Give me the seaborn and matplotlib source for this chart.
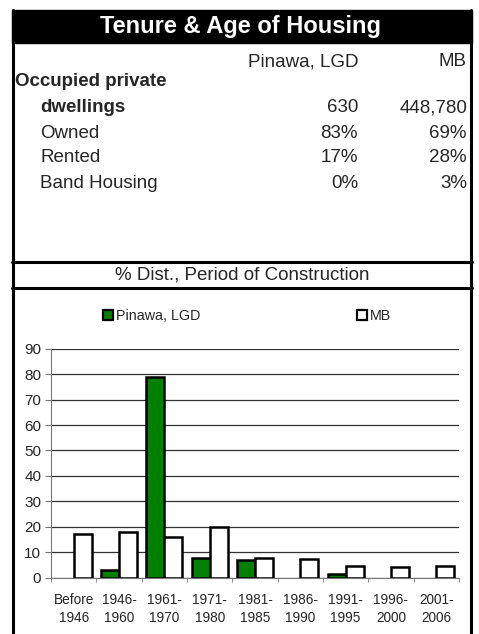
import pandas as pd
import seaborn as sns
import matplotlib.pyplot as plt
from matplotlib.patches import Rectangle
from matplotlib.lines import Line2D

# Chart data
periods = ['Before\n1946', '1946-\n1960', '1961-\n1970', '1971-\n1980', '1981-\n1985',
           '1986-\n1990', '1991-\n1995', '1996-\n2000', '2001-\n2006']
pinawa = [0, 3, 79, 7.6, 7, 0, 1.5, 0, 0]
mb = [17, 18, 16, 20, 7.6, 7.3, 4.5, 4.2, 4.7]
series_names = ['Pinawa, LGD', 'MB']

# Table data
row_labels = ['Occupied private', 'dwellings', 'Owned', 'Rented', 'Band Housing']
pinawa_col = ['', '630', '83%', '17%', '0%']
mb_col = ['', '448,780', '69%', '28%', '3%']

df = pd.DataFrame({
    'period': periods * 2,
    'value': pinawa + mb,
    'area': [series_names[0]] * len(periods) + [series_names[1]] * len(periods),
})

sns.set_style('white')
plt.rcParams['font.family'] = ['Liberation Sans', 'DejaVu Sans']

W, H = 479, 634
fig = plt.figure(figsize=(W / 100, H / 100), dpi=100)


def fx(x):
    return x / W


def fy(y):
    return 1 - y / H


def hline(y, x0=12, x1=472, lw=2.2):
    fig.add_artist(Line2D([fx(x0), fx(x1)], [fy(y), fy(y)], transform=fig.transFigure,
                          color='black', lw=lw))


def vline(x, y0, y1, lw=2.2):
    fig.add_artist(Line2D([fx(x), fx(x)], [fy(y0), fy(y1)], transform=fig.transFigure,
                          color='black', lw=lw))


# title bar
fig.add_artist(Rectangle((fx(12), fy(43)), fx(472) - fx(12), fy(10) - fy(43),
                         transform=fig.transFigure, facecolor='black', edgecolor='black'))
fig.text(fx(241), fy(27), 'Tenure & Age of Housing', color='white', fontsize=17,
         fontweight='bold', ha='center', va='center')

# frame lines
vline(13, 10, 640)
vline(471, 10, 640)
hline(262)
hline(288)

# table
fs = 13.5
fig.text(fx(358), fy(62), series_names[0], fontsize=fs, ha='right', va='center')
fig.text(fx(467), fy(62), series_names[1], fontsize=fs, ha='right', va='center')
row_y = [82, 108, 133, 158, 183]
for i, (lab, p, m) in enumerate(zip(row_labels, pinawa_col, mb_col)):
    bold = i < 2
    x = 15 if i == 0 else 40
    fig.text(fx(x), fy(row_y[i]), lab, fontsize=fs, ha='left', va='center',
             fontweight='bold' if bold else 'normal')
    fig.text(fx(358), fy(row_y[i]), p, fontsize=fs, ha='right', va='center')
    fig.text(fx(467), fy(row_y[i]), m, fontsize=fs, ha='right', va='center')

fig.text(fx(242), fy(275), '% Dist., Period of Construction', fontsize=13.5,
         ha='center', va='center')

# bar chart
ax = fig.add_axes([fx(51), fy(577.7), fx(459) - fx(51), (577.7 - 348.7) / H])
sns.barplot(data=df, x='period', y='value', hue='area',
            palette={series_names[0]: '#008000', series_names[1]: 'white'},
            saturation=1, edgecolor='black', linewidth=1.8, width=0.8, ax=ax, zorder=3)
# hide outline of empty bars
for cont in ax.containers:
    for bar in cont:
        if bar.get_height() == 0:
            bar.set_linewidth(0)
ax.set_ylim(0, 90)
ax.set_xlim(-0.5, len(periods) - 0.5)
ax.set_yticks(range(0, 91, 10))
ax.yaxis.grid(True, color='#333333', lw=0.9, zorder=0)
ax.set_axisbelow(True)
ax.set_xlabel('')
ax.set_ylabel('')
for s in ['top', 'right']:
    ax.spines[s].set_visible(False)
ax.spines['left'].set_color('#777777')
ax.spines['bottom'].set_color('#777777')
ax.tick_params(axis='y', labelsize=11, length=4, color='#777777', pad=3, left=True)
ax.tick_params(axis='x', labelsize=9.8, length=0, pad=11)
for t in ax.get_xticklabels():
    t.set_linespacing(1.4)
ax.set_xticks([i + 0.5 for i in range(-1, len(periods))], minor=True)
ax.tick_params(axis='x', which='minor', length=3, color='#777777', bottom=True)
ax.legend_.remove()

handles, labels = ax.get_legend_handles_labels()
for h in handles:
    h.set_edgecolor('black')
    h.set_linewidth(1.6)
fig.legend(handles, labels, loc='center', bbox_to_anchor=(fx(247), fy(316)),
           bbox_transform=fig.transFigure, ncol=2, frameon=False, fontsize=10.3,
           columnspacing=11, handlelength=0.7, handleheight=0.7, handletextpad=0.2)

fig.savefig('out.png', dpi=100)
